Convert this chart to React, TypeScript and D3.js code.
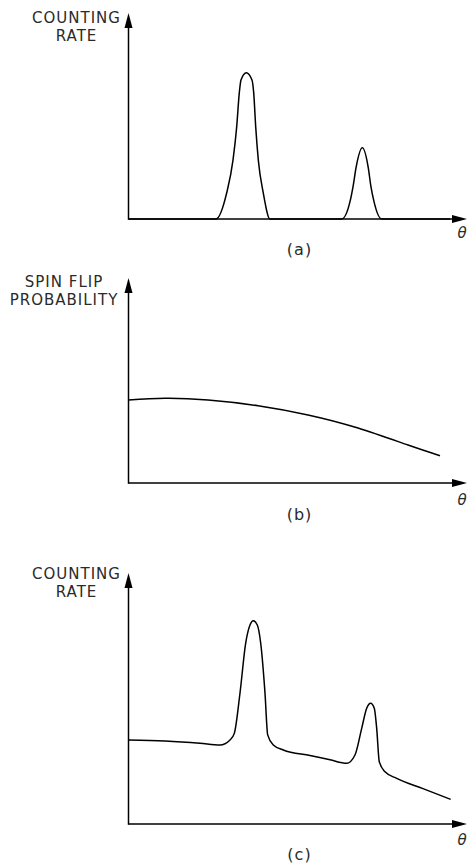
import React from "react";
import * as d3 from "d3";

// theta in arbitrary units (0..10 along the axis), rate / probability in arbitrary units (0..10 up the axis)
const countingA: [number, number][] = [
  [0, 0], [2.585, 0], [2.9, 1.26], [3.087, 2.86], [3.196, 4.47], [3.273, 6.12], [3.323, 6.75],
  [3.48, 7.1], [3.648, 6.75], [3.699, 6.12], [3.758, 4.47], [3.835, 2.86], [3.982, 1.26], [4.18, 0],
  [6.298, 0], [6.543, 0.84], [6.641, 1.65], [6.721, 2.48], [6.907, 3.46], [7.084, 2.48],
  [7.155, 1.65], [7.253, 0.84], [7.48, 0], [9.5, 0],
];

const spinFlipB: [number, number][] = [
  [0, 4.05], [1.078, 4.13], [2.349, 4.05], [3.826, 3.77], [5.303, 3.32], [6.78, 2.68],
  [8.257, 1.85], [9.202, 1.33],
];

const countingC: [number, number][] = [
  [0, 3.35], [1.078, 3.31], [2.112, 3.22], [2.703, 3.15], [2.999, 3.35], [3.126, 3.61],
  [3.294, 5.22], [3.462, 7.21], [3.589, 7.93], [3.687, 8.1], [3.805, 7.93], [3.905, 7.21],
  [4.032, 5.22], [4.112, 3.55], [4.278, 3.15], [4.573, 2.95], [5.362, 2.73], [5.953, 2.56],
  [6.446, 2.42], [6.691, 2.75], [6.889, 3.81], [7.037, 4.61], [7.155, 4.81], [7.261, 4.61],
  [7.332, 3.81], [7.409, 2.48], [7.578, 2.08], [7.923, 1.82], [8.7, 1.41], [9.518, 0.98],
];

const yTitles = [["COUNTING", "RATE"], ["SPIN FLIP", "PROBABILITY"], ["COUNTING", "RATE"]];
const captions = ["(a)", "(b)", "(c)"];
const xTitle = "θ";

const panels = [
  { data: countingA, curve: d3.curveMonotoneX, tip: 13, base: 219, titleX: 76.5, titleY: 22.7, thetaY: 238, capY: 255 },
  { data: spinFlipB, curve: d3.curveNatural, tip: 278, base: 483, titleX: 64, titleY: 287, thetaY: 505, capY: 520 },
  { data: countingC, curve: d3.curveMonotoneX, tip: 573, base: 824, titleX: 76.5, titleY: 579, thetaY: 845, capY: 860 },
];

const width = 471;
const height = 867;
const axisX = 128.5;
const tipX = 467;
const head = 15;
const halfHead = 4;

const x = d3.scaleLinear().domain([0, 10]).range([axisX, tipX]);

const Panel = ({ p, i }: { p: typeof panels[number]; i: number }) => {
  const y = d3.scaleLinear().domain([0, 10]).range([p.base, p.tip]);
  const line = d3
    .line<[number, number]>()
    .x((d) => x(d[0]))
    .y((d) => y(d[1]))
    .curve(p.curve);

  const x0 = x(0);
  const x1 = x(10);
  const y0 = y(0);
  const y1 = y(10);

  return (
    <g>
      {/* axes with filled arrow heads */}
      <line x1={x0} y1={y0} x2={x1 - head + 1} y2={y0} stroke="#000" strokeWidth={1.5} />
      <line x1={x0} y1={y0 + 0.75} x2={x0} y2={y1 + head - 1} stroke="#000" strokeWidth={1.5} />
      <path d={`M${x1},${y0} L${x1 - head},${y0 - halfHead} L${x1 - head},${y0 + halfHead} Z`} fill="#000" />
      <path d={`M${x0},${y1} L${x0 - halfHead},${y1 + head} L${x0 + halfHead},${y1 + head} Z`} fill="#000" />

      <path d={line(p.data) ?? ""} fill="none" stroke="#000" strokeWidth={1.5} strokeLinejoin="round" />

      <text
        x={p.titleX}
        y={p.titleY}
        textAnchor="middle"
        fontFamily="DejaVu Sans"
        fontSize={15}
        letterSpacing={1}
        fill="#2a2a2a"
      >
        <tspan x={p.titleX}>{yTitles[i][0]}</tspan>
        <tspan x={p.titleX} dy={18}>{yTitles[i][1]}</tspan>
      </text>
      <text x={462} y={p.thetaY} textAnchor="middle" fontFamily="DejaVu Sans" fontStyle="italic" fontSize={15} fill="#2a2a2a">
        {xTitle}
      </text>
      <text x={299.5} y={p.capY} textAnchor="middle" fontFamily="DejaVu Sans" fontSize={16} letterSpacing={1} fill="#2a2a2a">
        {captions[i]}
      </text>
    </g>
  );
};

export default function App() {
  return (
    <svg
      width={width}
      height={height}
      style={{ position: "absolute", left: 0, top: 0, background: "#fff" }}
    >
      {panels.map((p, i) => (
        <Panel key={i} p={p} i={i} />
      ))}
    </svg>
  );
}
